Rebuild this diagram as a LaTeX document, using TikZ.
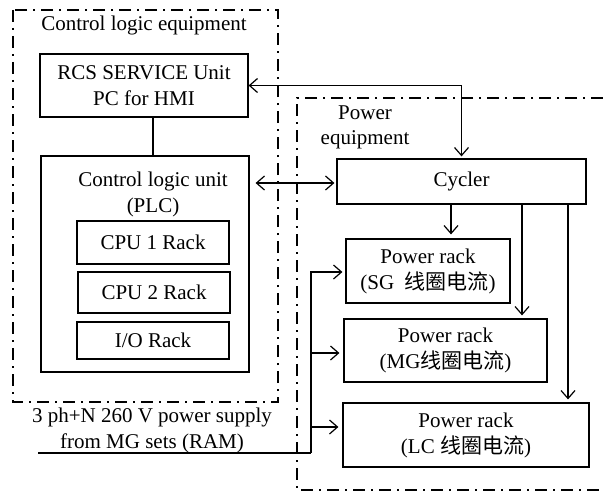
\documentclass[tikz,border=0pt]{standalone}
\usepackage{fontspec}
\setmainfont{Liberation Serif}
\newfontfamily\cjk{Noto Sans CJK SC}
\usetikzlibrary{arrows.meta}
\tikzset{
  box/.style={draw, line width=0.6pt, inner sep=0pt, align=center, font=\fontsize{10.5}{13}\selectfont},
  txt/.style={inner sep=0pt, align=center, font=\fontsize{10.5}{12.6}\selectfont},
  conn/.style={line width=0.6pt, -{Straight Barb[length=4pt,width=7pt,line width=0.6pt]}},
  dconn/.style={line width=0.6pt, {Straight Barb[length=4pt,width=7pt,line width=0.6pt]}-{Straight Barb[length=4pt,width=7pt,line width=0.6pt]}},
  plain/.style={line width=0.6pt},
  dashdot/.style={line width=0.6pt, dash pattern=on 6pt off 3pt on 1pt off 3pt},
}
\begin{document}
\begin{tikzpicture}[x=0.5pt,y=-0.5pt]
\useasboundingbox (0,0) rectangle (603,492);
% equipment boundaries
\draw[dashdot] (13,10) rectangle (278,402);
\draw[dashdot] (603,98) -- (297,98) -- (297,490) -- (603,490);
\node[txt] (cletitle) at (144,25) {Control logic equipment};
\node[txt] (petitle) at (365,127) {Power\\equipment};
% boxes
\node[box, minimum width=104pt, minimum height=31.5pt] (rcs) at (144,85.5) {RCS SERVICE Unit\\PC for HMI};
\node[box, minimum width=104pt, minimum height=108pt] (plc) at (145,264) {};
\node[txt] (plctext) at (153,194.5) {Control logic unit\\(PLC)};
\node[box, minimum width=76pt, minimum height=21.5pt] (cpu1) at (153,242.5) {CPU 1 Rack};
\node[box, minimum width=76pt, minimum height=20.5pt] (cpu2) at (154,292.5) {CPU 2 Rack};
\node[box, minimum width=76pt, minimum height=18.5pt] (io) at (153,340.5) {I/O Rack};
\node[box, minimum width=124.5pt, minimum height=22.5pt] (cyc) at (461.5,181.5) {Cycler};
\node[box, minimum width=82pt, minimum height=32pt] (sg) at (428,271) {Power rack\\(SG\ \ {\cjk 线圈电流})};
\node[box, minimum width=101.5pt, minimum height=31.5pt] (mg) at (445.5,350.5) {Power rack\\(MG{\cjk 线圈电流})};
\node[box, minimum width=123pt, minimum height=32pt] (lc) at (466,435) {Power rack\\(LC {\cjk 线圈电流})};
\node[txt] (suptext) at (152,430.5) {3 ph+N 260 V power supply\\from MG sets (RAM)};
% connectors
\draw[dconn, shorten >=1pt] (rcs.east) -| (cyc.north);
\draw[plain] ([xshift=4.5pt]rcs.south) -- ([xshift=4.5pt]rcs.south |- plc.north);
\draw[dconn, shorten <=3pt, shorten >=1pt] (plc.east |- 0,183) -- (cyc.west |- 0,183);
\draw[conn, shorten >=2pt] (cyc.south -| 451,0) -- (sg.north -| 451,0);
\draw[conn, shorten >=1.5pt] (cyc.south -| 522,0) -- (mg.north -| 522,0);
\draw[conn, shorten >=1.5pt] (cyc.south -| 568,0) -- (lc.north -| 568,0);
\coordinate (supin) at (38,453);
\coordinate (bus) at (311,453);
\draw[plain] (supin) -- (bus);
\draw[conn, shorten >=1.5pt] (bus) -- (311,272) -- (sg.west |- 0,272);
\draw[conn, shorten >=2pt] (311,353) -- (mg.west |- 0,353);
\draw[conn, shorten >=2pt] (311,427) -- (lc.west |- 0,427);
\end{tikzpicture}
\end{document}
